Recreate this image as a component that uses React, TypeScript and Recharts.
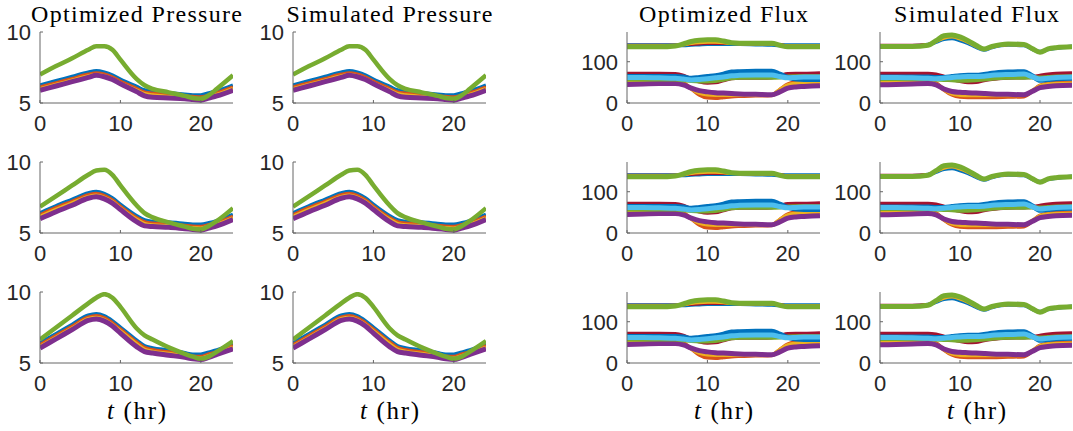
import React from "react";
import { LineChart, Line, XAxis, YAxis } from "recharts";

const pressureHours = [0, 2, 4, 6, 7, 8, 9, 10, 12, 13, 14, 16, 18, 19, 20, 21, 22, 24];
const fluxHours = [0, 2, 4, 6, 7, 8, 9, 10, 11, 12, 13, 14, 16, 18, 19, 20, 21, 22, 24];

// pressure, row 1
const pBlue1 = [6.25, 6.55, 6.85, 7.15, 7.25, 7.15, 6.95, 6.65, 6.15, 5.9, 5.8, 5.7, 5.6, 5.55, 5.55, 5.7, 5.85, 6.25];
const pOrange1 = [6.12, 6.42, 6.72, 7.02, 7.12, 7.02, 6.82, 6.52, 6.02, 5.77, 5.68, 5.58, 5.5, 5.45, 5.42, 5.55, 5.72, 6.12];
const pYellow1 = [6.02, 6.32, 6.62, 6.92, 7.02, 6.92, 6.72, 6.42, 5.92, 5.67, 5.58, 5.48, 5.4, 5.35, 5.32, 5.45, 5.62, 6.02];
const pPurple1 = [5.9, 6.2, 6.5, 6.8, 6.95, 6.85, 6.65, 6.35, 5.8, 5.5, 5.4, 5.35, 5.3, 5.25, 5.2, 5.35, 5.5, 5.9];
const pGreen1 = [7.0, 7.6, 8.15, 8.75, 9.0, 9.0, 8.75, 8.05, 6.7, 6.25, 6.0, 5.75, 5.5, 5.35, 5.3, 5.55, 6.0, 6.95];

// pressure, row 2
const pBlue2 = [6.4, 6.9, 7.35, 7.8, 7.9, 7.75, 7.45, 7.0, 6.2, 5.9, 5.8, 5.75, 5.65, 5.6, 5.6, 5.7, 5.85, 6.3];
const pOrange2 = [6.28, 6.78, 7.23, 7.68, 7.78, 7.63, 7.33, 6.88, 6.08, 5.78, 5.68, 5.63, 5.53, 5.48, 5.46, 5.58, 5.73, 6.18];
const pYellow2 = [6.18, 6.68, 7.13, 7.58, 7.68, 7.53, 7.23, 6.78, 5.98, 5.68, 5.58, 5.53, 5.43, 5.38, 5.36, 5.48, 5.63, 6.08];
const pPurple2 = [6.0, 6.5, 6.95, 7.45, 7.55, 7.4, 7.1, 6.65, 5.8, 5.5, 5.45, 5.4, 5.3, 5.25, 5.2, 5.35, 5.5, 5.95];
const pGreen2 = [6.85, 7.6, 8.35, 9.1, 9.4, 9.45, 9.1, 8.35, 6.95, 6.4, 6.1, 5.75, 5.45, 5.3, 5.25, 5.5, 5.85, 6.75];

// pressure, row 3
const pBlue3 = [6.4, 7.05, 7.7, 8.35, 8.45, 8.3, 7.95, 7.5, 6.6, 6.2, 6.05, 5.9, 5.7, 5.6, 5.6, 5.75, 5.9, 6.35];
const pOrange3 = [6.28, 6.93, 7.58, 8.23, 8.33, 8.18, 7.83, 7.38, 6.48, 6.08, 5.93, 5.78, 5.58, 5.48, 5.46, 5.63, 5.78, 6.23];
const pYellow3 = [6.18, 6.83, 7.48, 8.13, 8.23, 8.08, 7.73, 7.28, 6.38, 5.98, 5.83, 5.68, 5.48, 5.38, 5.36, 5.53, 5.68, 6.13];
const pPurple3 = [6.05, 6.7, 7.35, 8.0, 8.1, 7.95, 7.6, 7.1, 6.15, 5.8, 5.7, 5.55, 5.4, 5.3, 5.25, 5.4, 5.6, 6.0];
const pGreen3 = [6.65, 7.5, 8.35, 9.2, 9.6, 9.85, 9.6, 8.95, 7.45, 6.95, 6.65, 6.1, 5.65, 5.45, 5.3, 5.45, 5.8, 6.55];

// optimized flux
const ofTopBlue = [140, 140, 140, 140, 140, 141, 142, 143, 143, 143, 143, 143, 142, 141, 140, 140, 140, 140, 140];
const ofTopOrange = [139, 139, 139, 140, 142, 145, 147, 148, 148, 147, 145, 144, 144, 144, 141, 139, 139, 139, 139];
const ofTopYellow = [138, 138, 138, 139, 141, 144, 146, 147, 147, 146, 144, 143, 143, 143, 140, 138, 138, 138, 138];
const ofTopRed = [140, 140, 140, 140, 141, 142, 143, 144, 144, 144, 144, 144, 143, 143, 141, 139, 139, 139, 139];
const ofTopGreen = [136, 136, 136, 138, 143, 149, 152, 153, 153, 150, 146, 145, 145, 145, 140, 136, 136, 136, 136];
const ofRed = [71, 71, 71, 70, 66, 58, 52, 49, 50, 55, 60, 61, 61, 62, 66, 70, 71, 71, 72];
const ofOrange = [53, 53, 53, 52, 48, 35, 20, 13, 12, 14, 16, 17, 18, 19, 32, 45, 50, 51, 52];
const ofYellow = [50, 50, 50, 49, 45, 34, 24, 20, 19, 19, 19, 19, 19, 20, 33, 44, 48, 49, 49];
const ofPurple = [45, 46, 47, 47, 44, 36, 30, 27, 25, 24, 23, 22, 21, 20, 27, 36, 39, 40, 42];
const ofGreen = [57, 57, 57, 57, 55, 53, 52, 52, 53, 56, 60, 61, 61, 61, 62, 64, 65, 65, 65];
const ofBlue = [64, 64, 64, 64, 63, 60, 62, 64, 66, 70, 75, 76, 77, 77, 70, 62, 58, 57, 57];
const ofCyan = [62, 62, 61, 60, 58, 56, 57, 59, 61, 63, 66, 67, 68, 68, 64, 61, 62, 63, 63];

// simulated flux
const sfTopBlue = [138, 138, 138, 141, 148, 155, 157, 152, 145, 136, 129, 135, 141, 140, 131, 124, 130, 133, 137];
const sfTopOrange = [139, 139, 139, 142, 150, 159, 161, 156, 148, 138, 130, 136, 142, 141, 132, 124, 131, 134, 137];
const sfTopYellow = [138, 138, 138, 141, 149, 157, 160, 155, 147, 137, 129, 135, 141, 140, 131, 124, 130, 133, 136];
const sfTopRed = [140, 140, 140, 142, 150, 159, 162, 157, 148, 138, 130, 136, 142, 141, 132, 124, 131, 134, 137];
const sfTopGreen = [137, 137, 137, 140, 151, 163, 165, 160, 151, 140, 131, 137, 143, 142, 132, 123, 131, 134, 136];
const sfRed = [71, 71, 71, 71, 69, 64, 58, 53, 50, 51, 55, 58, 61, 62, 63, 66, 69, 71, 72];
const sfOrange = [53, 53, 53, 52, 48, 32, 20, 15, 14, 14, 14, 14, 15, 16, 28, 42, 47, 49, 50];
const sfYellow = [50, 50, 50, 49, 46, 32, 22, 19, 18, 18, 18, 18, 18, 19, 30, 42, 46, 47, 48];
const sfPurple = [44, 45, 46, 47, 44, 34, 28, 26, 25, 24, 23, 22, 21, 20, 28, 37, 40, 42, 43];
const sfGreen = [58, 58, 58, 58, 57, 56, 55, 54, 54, 55, 57, 59, 61, 61, 62, 62, 63, 64, 65];
const sfBlue = [63, 63, 63, 63, 62, 62, 64, 66, 67, 67, 69, 72, 75, 76, 66, 55, 57, 59, 60];
const sfCyan = [62, 62, 61, 60, 59, 60, 62, 63, 64, 64, 65, 67, 69, 70, 64, 58, 60, 62, 63];

const titles = ["Optimized Pressure", "Simulated Pressure", "Optimized Flux", "Simulated Flux"];
const titleWidths = [211, 206, 169, 165];

const C = {
  blue: "#0072BD",
  orange: "#D95319",
  yellow: "#EDB120",
  purple: "#7E2F8E",
  green: "#77AC30",
  cyan: "#4DBEEE",
  red: "#A2142F",
};

const pressureRows = [
  [pBlue1, pOrange1, pYellow1, pPurple1, pGreen1],
  [pBlue2, pOrange2, pYellow2, pPurple2, pGreen2],
  [pBlue3, pOrange3, pYellow3, pPurple3, pGreen3],
];
const pressureColors = [C.blue, C.orange, C.yellow, C.purple, C.green];
const pressureWidths = [4, 3.5, 3, 5, 4.5];

const optFlux = [ofTopBlue, ofTopRed, ofTopOrange, ofTopYellow, ofRed, ofOrange, ofYellow, ofPurple, ofGreen, ofBlue, ofCyan, ofTopGreen];
const simFlux = [sfTopBlue, sfTopRed, sfTopOrange, sfTopYellow, sfRed, sfOrange, sfYellow, sfPurple, sfGreen, sfBlue, sfCyan, sfTopGreen];
const fluxColors = [C.blue, C.red, C.orange, C.yellow, C.red, C.orange, C.yellow, C.purple, C.green, C.blue, C.cyan, C.green];
const fluxWidths = [4, 3, 3, 3, 4, 4, 3.5, 5, 4, 5, 5, 5];

const boxLefts = [40, 293, 627, 880];
const boxTops = [32, 162, 292];
const BOX_W = 193;
const BOX_H = 71;
const Y_W = 50;
const X_H = 34;
const M_TOP = 14;
const M_RIGHT = 4;
const AXIS = "#666";
const TICK_FONT = { fontFamily: "'Liberation Sans', Arial, sans-serif", fontSize: 22, fill: "#262626" };

function buildRows(hours: number[], series: number[][]) {
  return hours.map((t, i) => {
    const row: { [k: string]: number } = { t };
    series.forEach((s, j) => (row["s" + j] = s[i]));
    return row;
  });
}

interface PanelProps {
  left: number;
  top: number;
  width: number;
  hours: number[];
  series: number[][];
  colors: string[];
  widths: number[];
  yDomain: [number, number];
  yTicks: number[];
}

const Panel: React.FC<PanelProps> = ({ left, top, width, hours, series, colors, widths, yDomain, yTicks }) => {
  const data = buildRows(hours, series);
  const w = Y_W + width + M_RIGHT;
  const h = M_TOP + BOX_H + X_H;
  return (
    <div style={{ position: "absolute", left: left - Y_W, top: top - M_TOP, width: w, height: h }}>
      <LineChart width={w} height={h} data={data} margin={{ top: M_TOP, right: M_RIGHT, left: 0, bottom: 0 }}>
        <XAxis
          dataKey="t"
          type="number"
          domain={[0, 24]}
          ticks={[0, 10, 20]}
          interval={0}
          allowDataOverflow
          height={X_H}
          tickSize={-3}
          tickMargin={15}
          stroke={AXIS}
          tick={TICK_FONT}
        />
        <XAxis
          xAxisId="top"
          orientation="top"
          dataKey="t"
          type="number"
          domain={[0, 24]}
          ticks={[0, 10, 20]}
          interval={0}
          height={0}
          tickSize={-3}
          tick={false}
          stroke={AXIS}
        />
        <YAxis
          type="number"
          domain={yDomain}
          ticks={yTicks}
          interval={0}
          allowDataOverflow
          width={Y_W}
          tickSize={-3}
          tickMargin={12}
          stroke={AXIS}
          tick={TICK_FONT}
        />
        <YAxis
          yAxisId="right"
          orientation="right"
          type="number"
          domain={yDomain}
          ticks={yTicks}
          interval={0}
          width={0}
          tickSize={-3}
          tick={false}
          stroke={AXIS}
        />
        {series.map((_, j) => (
          <Line
            key={j}
            dataKey={"s" + j}
            type="monotone"
            stroke={colors[j]}
            strokeWidth={widths[j]}
            dot={false}
            activeDot={false}
            isAnimationActive={false}
          />
        ))}
      </LineChart>
    </div>
  );
};

export default function App() {
  const serif = "'Liberation Serif', 'Times New Roman', serif";
  return (
    <div style={{ position: "absolute", left: 0, top: 0, width: 1073, height: 431, background: "#fff", overflow: "hidden" }}>
      {boxTops.map((top, r) => (
        <React.Fragment key={r}>
          {[0, 1].map((c) => (
            <Panel
              key={"p" + c}
              left={boxLefts[c]}
              top={top}
              width={BOX_W}
              hours={pressureHours}
              series={pressureRows[r]}
              colors={pressureColors}
              widths={pressureWidths}
              yDomain={[5, 10]}
              yTicks={[5, 10]}
            />
          ))}
          {[2, 3].map((c) => (
            <Panel
              key={"f" + c}
              left={boxLefts[c]}
              top={top}
              width={c === 3 ? 192 : BOX_W}
              hours={fluxHours}
              series={c === 2 ? optFlux : simFlux}
              colors={fluxColors}
              widths={fluxWidths}
              yDomain={[0, 172]}
              yTicks={[0, 100]}
            />
          ))}
        </React.Fragment>
      ))}
      <svg width={1073} height={431} style={{ position: "absolute", left: 0, top: 0, pointerEvents: "none" }}>
        {titles.map((t, c) => (
          <text
            key={t}
            x={boxLefts[c] + BOX_W / 2}
            y={22}
            textAnchor="middle"
            fontFamily={serif}
            fontSize={24}
            fill="#000"
            textLength={titleWidths[c]}
            lengthAdjust="spacing"
          >
            {t}
          </text>
        ))}
        {boxLefts.map((l, c) => (
          <text
            key={"xl" + c}
            x={l + BOX_W / 2}
            y={419}
            textAnchor="middle"
            fontFamily={serif}
            fontSize={25}
            fill="#000"
            textLength={59}
            lengthAdjust="spacing"
          >
            <tspan fontStyle="italic">t</tspan> (hr)
          </text>
        ))}
      </svg>
    </div>
  );
}
